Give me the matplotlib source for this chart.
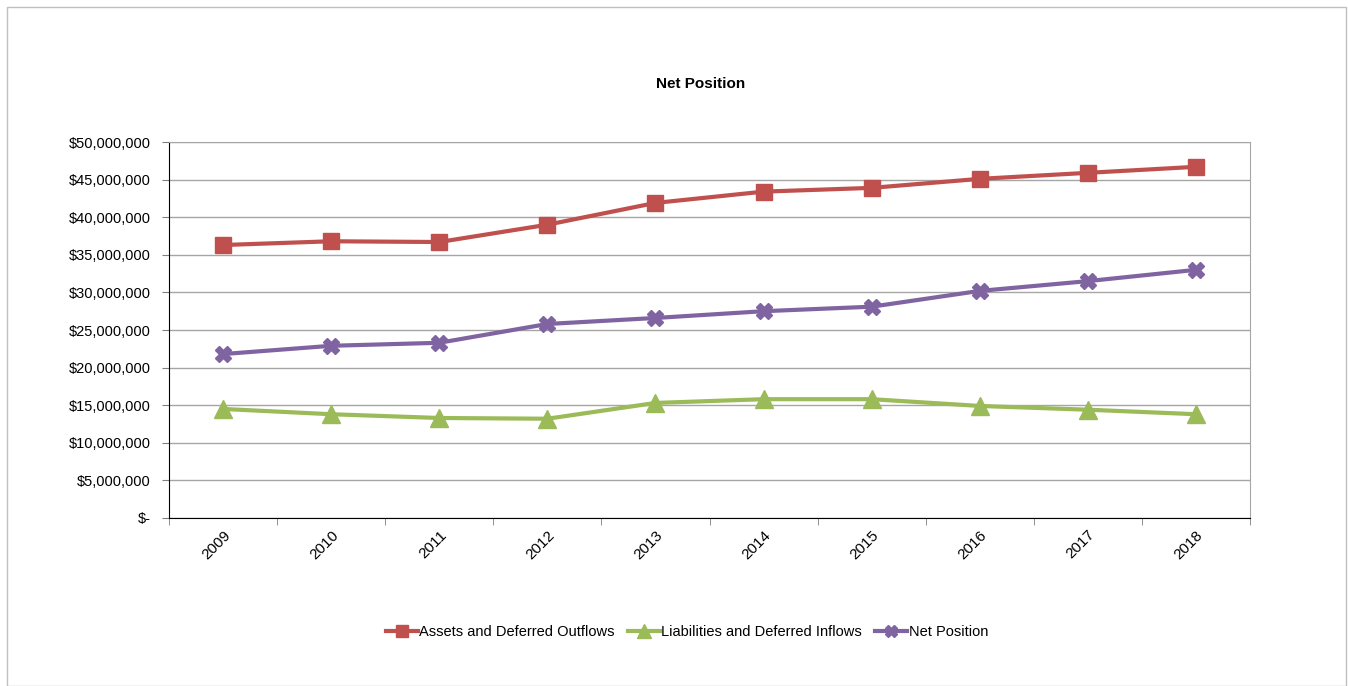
import matplotlib.pyplot as plt
from matplotlib.patches import Rectangle
from matplotlib.ticker import FuncFormatter, FixedLocator

plt.rcParams['font.family'] = ['Liberation Sans', 'DejaVu Sans']

years = ["2009", "2010", "2011", "2012", "2013", "2014", "2015", "2016", "2017", "2018"]
assets = [36.3e6, 36.8e6, 36.7e6, 39.0e6, 41.9e6, 43.4e6, 43.9e6, 45.1e6, 45.9e6, 46.7e6]
liabilities = [14.5e6, 13.8e6, 13.3e6, 13.2e6, 15.3e6, 15.8e6, 15.8e6, 14.9e6, 14.4e6, 13.8e6]
net_position = [21.8e6, 22.9e6, 23.3e6, 25.8e6, 26.6e6, 27.5e6, 28.1e6, 30.2e6, 31.5e6, 33.0e6]

fig = plt.figure(figsize=(13.48, 6.86), dpi=100)
fig.patches.append(Rectangle((7 / 1348, 0.0), 1339 / 1348, 679 / 686, transform=fig.transFigure,
                             fill=False, edgecolor="#bfbfbf", linewidth=1))

ax = fig.add_axes([169 / 1348, 1 - 518 / 686, (1250 - 169) / 1348, (518 - 142) / 686])
x = list(range(1, len(years) + 1))

ax.plot(x, assets, color="#C0504D", linewidth=3, marker="s", markersize=12,
        label="Assets and Deferred Outflows", zorder=3)
ax.plot(x, liabilities, color="#9BBB59", linewidth=3, marker="^", markersize=13,
        label="Liabilities and Deferred Inflows", zorder=3)
ax.plot(x, net_position, color="#8064A2", linewidth=3, marker="X", markersize=12,
        label="Net Position", zorder=3)

ax.set_xlim(0.5, len(years) + 0.5)
ax.set_ylim(0, 50e6)
ax.set_yticks([i * 5e6 for i in range(11)])
ax.yaxis.set_major_formatter(FuncFormatter(lambda v, p: "$-" if v == 0 else f"${v:,.0f}"))
ax.grid(axis="y", color="#a6a6a6", linewidth=1)
ax.set_axisbelow(True)

ax.set_xticks(x)
ax.set_xticklabels(years, rotation=45, ha="right", rotation_mode="anchor")
ax.xaxis.set_minor_locator(FixedLocator([i + 0.5 for i in range(len(years) + 1)]))
ax.tick_params(axis="x", which="major", length=0, pad=7, labelsize=11)
ax.tick_params(axis="x", which="minor", length=5, color="#808080")
ax.tick_params(axis="y", length=5, color="#808080", labelsize=10.5, pad=8)

ax.spines["left"].set_color("black")
ax.spines["bottom"].set_color("black")
ax.spines["top"].set_color("#a6a6a6")
ax.spines["right"].set_color("#a6a6a6")

fig.text(701 / 1348, 1 - 84 / 686, "Net Position", ha="center", va="center",
         fontsize=11, fontweight="bold")

fig.legend(loc="center", bbox_to_anchor=(687 / 1348, 1 - 632 / 686), ncol=3, frameon=False,
           fontsize=10.5, handlelength=2.2, handletextpad=0.1, columnspacing=0.9, markerscale=0.75)

plt.savefig("out.png", dpi=100)
